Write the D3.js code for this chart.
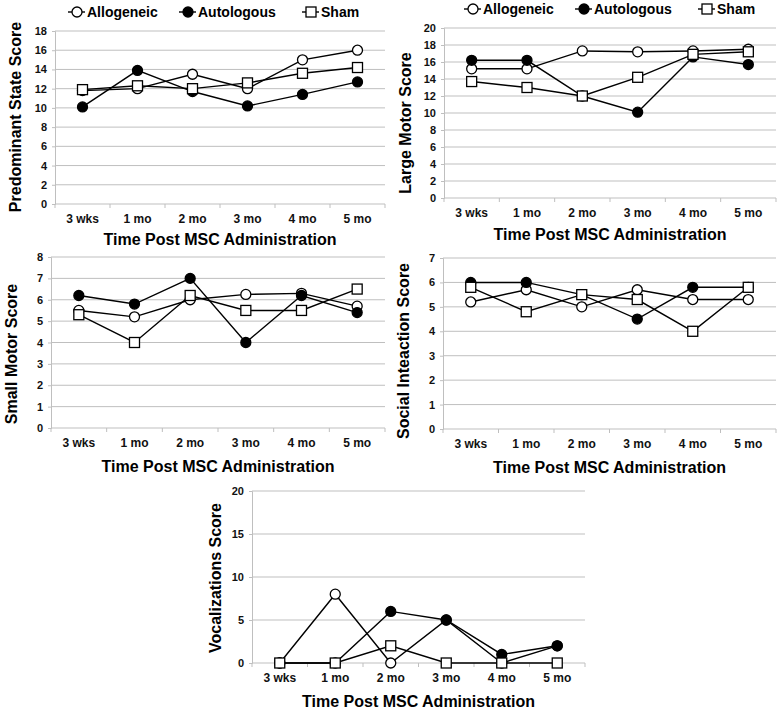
<!DOCTYPE html>
<html>
<head>
<meta charset="utf-8">
<script src="https://cdn.jsdelivr.net/npm/d3@7"></script>
<style>
  html, body { margin: 0; padding: 0; background: #fff; }
  svg { display: block; font-family: "Liberation Sans", Arial, sans-serif; }
</style>
</head>
<body>
<svg id="chart" width="780" height="711"></svg>
<script>
// ---- Data ----
const categories = ["3 wks", "1 mo", "2 mo", "3 mo", "4 mo", "5 mo"];
const seriesNames = ["Allogeneic", "Autologous", "Sham"];

const predominantAllo = [11.8, 12.0, 13.5, 12.0, 15.0, 16.0];
const predominantAuto = [10.1, 13.9, 11.7, 10.2, 11.4, 12.7];
const predominantSham = [11.9, 12.3, 12.0, 12.6, 13.6, 14.2];
const predominantTicks = [0, 2, 4, 6, 8, 10, 12, 14, 16, 18];

const largeAllo = [15.2, 15.2, 17.3, 17.2, 17.3, 17.5];
const largeAuto = [16.2, 16.2, 12.0, 10.1, 16.6, 15.7];
const largeSham = [13.7, 13.0, 12.0, 14.2, 16.9, 17.2];
const largeTicks = [0, 2, 4, 6, 8, 10, 12, 14, 16, 18, 20];

const smallAllo = [5.5, 5.2, 6.0, 6.25, 6.3, 5.7];
const smallAuto = [6.2, 5.8, 7.0, 4.0, 6.2, 5.4];
const smallSham = [5.3, 4.0, 6.2, 5.5, 5.5, 6.5];
const smallTicks = [0, 1, 2, 3, 4, 5, 6, 7, 8];

const socialAllo = [5.2, 5.7, 5.0, 5.7, 5.3, 5.3];
const socialAuto = [6.0, 6.0, 5.5, 4.5, 5.8, 5.8];
const socialSham = [5.8, 4.8, 5.5, 5.3, 4.0, 5.8];
const socialTicks = [0, 1, 2, 3, 4, 5, 6, 7];

const vocalAllo = [0, 8, 0, 5, 0, 2];
const vocalAuto = [0, 0, 6, 5, 1, 2];
const vocalSham = [0, 0, 2, 0, 0, 0];
const vocalTicks = [0, 5, 10, 15, 20];

const xTitle = "Time Post MSC Administration";

// ---- Layout (positions only) ----
const panels = [
  { yTitle: "Predominant State Score", series: [predominantAllo, predominantAuto, predominantSham], ticks: predominantTicks,
    left: 55, right: 385, top: 31, bottom: 204, titleX: 15, titleY: 117, xTitleDy: 41,
    legend: { y: 12, xs: [77, 188, 311] } },
  { yTitle: "Large Motor Score", series: [largeAllo, largeAuto, largeSham], ticks: largeTicks,
    left: 444, right: 776, top: 28, bottom: 198, titleX: 405, titleY: 123, xTitleDy: 42,
    legend: { y: 9, xs: [473, 584, 707] } },
  { yTitle: "Small Motor Score", series: [smallAllo, smallAuto, smallSham], ticks: smallTicks,
    left: 51, right: 385, top: 257, bottom: 428, titleX: 11, titleY: 354, xTitleDy: 44 },
  { yTitle: "Social Inteaction Score", series: [socialAllo, socialAuto, socialSham], ticks: socialTicks,
    left: 443, right: 776, top: 258, bottom: 429, titleX: 403, titleY: 351, xTitleDy: 44 },
  { yTitle: "Vocalizations Score", series: [vocalAllo, vocalAuto, vocalSham], ticks: vocalTicks,
    left: 252, right: 585, top: 491, bottom: 663, titleX: 215, titleY: 578, xTitleDy: 44 }
];

const svg = d3.select("#chart");
const gridColor = "#bfbfbf";
const fills = ["#ffffff", "#000000", "#ffffff"];
const shapes = ["circle", "circle", "square"];

function drawMarker(g, shape, fill, cx, cy) {
  if (shape === "circle") {
    g.append("circle").attr("cx", cx).attr("cy", cy).attr("r", 5)
      .attr("fill", fill).attr("stroke", "#000").attr("stroke-width", 1.3);
  } else {
    g.append("rect").attr("x", cx - 5).attr("y", cy - 5).attr("width", 10).attr("height", 10)
      .attr("fill", fill).attr("stroke", "#000").attr("stroke-width", 1.3);
  }
}

panels.forEach(p => {
  const g = svg.append("g");
  const x = d3.scaleBand().domain(categories).range([p.left, p.right]);
  const y = d3.scaleLinear().domain([d3.min(p.ticks), d3.max(p.ticks)]).range([p.bottom, p.top]);

  // gridlines
  g.append("g").selectAll("line").data(p.ticks.filter(t => t !== 0)).join("line")
    .attr("x1", p.left).attr("x2", p.right)
    .attr("y1", d => y(d)).attr("y2", d => y(d))
    .attr("stroke", gridColor).attr("stroke-width", 1);

  // y axis
  const yAxis = g.append("g").attr("transform", `translate(${p.left},0)`)
    .call(d3.axisLeft(y).tickValues(p.ticks).tickSize(3).tickPadding(5).tickFormat(d3.format("d")));
  yAxis.select(".domain").attr("stroke", gridColor);
  yAxis.selectAll(".tick line").attr("stroke", gridColor);
  yAxis.selectAll("text").attr("font-size", 11).attr("font-weight", "bold").attr("fill", "#111");

  // x axis
  const xAxis = g.append("g").attr("transform", `translate(0,${p.bottom})`)
    .call(d3.axisBottom(x).tickSize(0).tickPadding(10));
  xAxis.select(".domain").attr("stroke", gridColor).attr("d", `M${p.left},0H${p.right}`);
  xAxis.selectAll("text").attr("font-size", 12).attr("font-weight", "bold").attr("fill", "#111");
  // boundary ticks between categories
  const bounds = categories.map(c => x(c)).concat([p.right]);
  g.append("g").selectAll("line").data(bounds).join("line")
    .attr("x1", d => d).attr("x2", d => d)
    .attr("y1", p.bottom).attr("y2", p.bottom + 4)
    .attr("stroke", gridColor);

  // x title
  g.append("text").attr("x", (p.left + p.right) / 2).attr("y", p.bottom + p.xTitleDy)
    .attr("text-anchor", "middle").attr("font-size", 16).attr("font-weight", "bold")
    .text(xTitle);

  // y title
  g.append("text")
    .attr("transform", `translate(${p.titleX},${p.titleY}) rotate(-90)`)
    .attr("text-anchor", "middle").attr("dominant-baseline", "central")
    .attr("font-size", 16).attr("font-weight", "bold")
    .text(p.yTitle);

  // lines
  const line = d3.line().x((d, i) => x(categories[i]) + x.bandwidth() / 2).y(d => y(d));
  p.series.forEach(s => {
    g.append("path").attr("d", line(s)).attr("fill", "none")
      .attr("stroke", "#000").attr("stroke-width", 1.4);
  });
  // markers
  p.series.forEach((s, si) => {
    s.forEach((v, i) => drawMarker(g, shapes[si], fills[si], x(categories[i]) + x.bandwidth() / 2, y(v)));
  });

  // legend
  if (p.legend) {
    seriesNames.forEach((name, si) => {
      const cx = p.legend.xs[si];
      const ly = p.legend.y;
      g.append("line").attr("x1", cx - 9).attr("x2", cx + 8).attr("y1", ly).attr("y2", ly)
        .attr("stroke", "#000").attr("stroke-width", 1.4);
      drawMarker(g, shapes[si], fills[si], cx, ly);
      g.append("text").attr("x", cx + 10).attr("y", ly).attr("dominant-baseline", "central")
        .attr("font-size", 14).attr("font-weight", "bold").text(name);
    });
  }
});
</script>
</body>
</html>
